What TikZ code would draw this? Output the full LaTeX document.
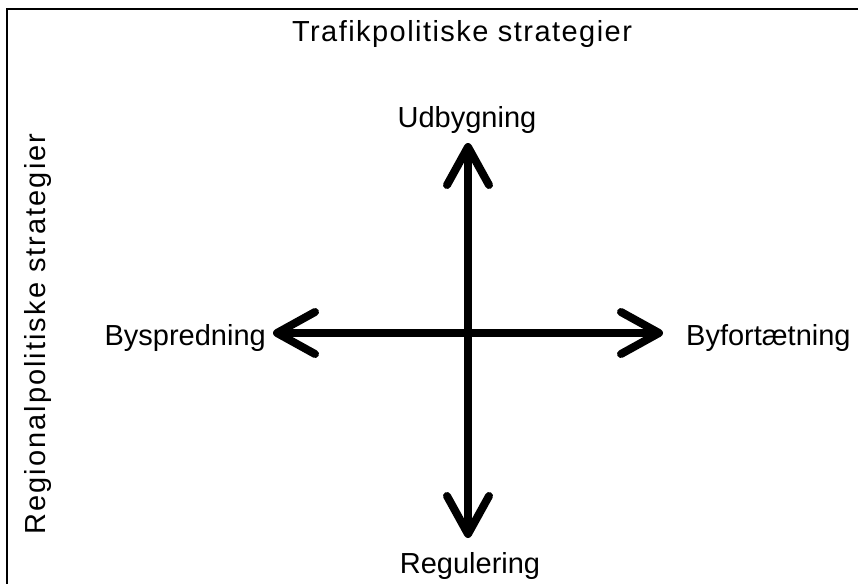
\documentclass[tikz,border=0pt]{standalone}
\usepackage{fontspec}
\setmainfont{Liberation Sans}
\newfontfamily\titelfont{Liberation Sans}[LetterSpace=5]
\newfontfamily\sidefont{Liberation Sans}[LetterSpace=7]
\usetikzlibrary{arrows.meta}

\begin{document}
\begin{tikzpicture}
                            [x=1pt, y=-1pt,
                            lbl/.style = {font=\fontsize{29}{33}\selectfont,
                                        inner sep=0pt, anchor=base},
                            axis/.style = {line width=8pt,
                                        {Straight Barb[length=38pt, width=42pt, round]}-{Straight Barb[length=38pt, width=42pt, round]}}]
                            \useasboundingbox (0,0) rectangle (858,583);
                            \clip (0,0) rectangle (858,583);
                            % Ramme
                            \draw [line width=2pt] (7,9) rectangle (880,600);
                            % Overskrifter
                            \node[lbl, font=\fontsize{29}{33}\titelfont] (trafik) at (462,42) {Trafikpolitiske strategier};
                            \node[lbl, font=\fontsize{29}{33}\sidefont, rotate=90] (region) at (45,334) {Regionalpolitiske strategier};
                            % Akser
                            \node[lbl] (udb) at (467,127) {Udbygning};
                            \node[lbl] (reg) at (470,573) {Regulering};
                            \node[lbl, anchor=base east] (bysp) at (266,345) {Byspredning};
                            \node[lbl, anchor=base west] (byf) at (686,345) {Byfortætning};
                            \coordinate (top) at (468,143);
                            \coordinate (bund) at (468,538);
                            \coordinate (venstre) at (273,333);
                            \coordinate (hoejre) at (663,333);
                            \draw[axis] (venstre) -- (hoejre);
                            \draw[axis] (bund) -- (top);
                        \end{tikzpicture}
\end{document}
